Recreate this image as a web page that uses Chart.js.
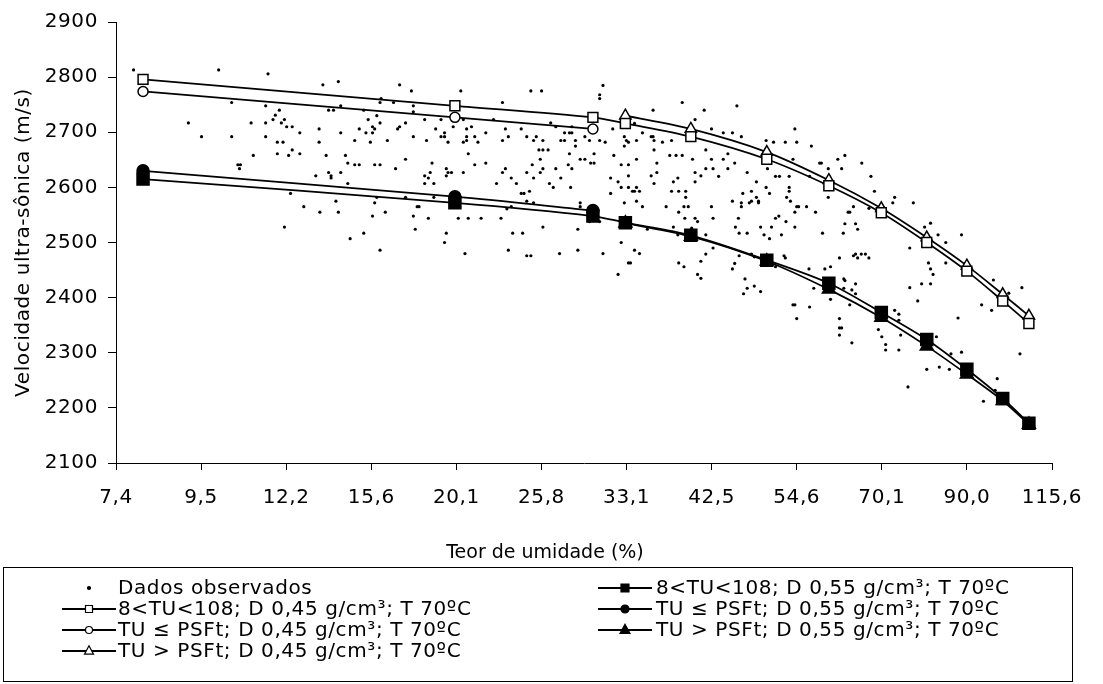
<!DOCTYPE html>
<html lang="pt">
<head>
<meta charset="utf-8">
<title>Velocidade ultra-sônica x teor de umidade</title>
<script src="https://cdn.jsdelivr.net/npm/chart.js@4.4.1/dist/chart.umd.min.js"></script>
<style>
  html, body { margin: 0; padding: 0; background: #fff; }
  canvas { display: block; }
</style>
</head>
<body>
<canvas id="chart" width="1103" height="684"></canvas>
<script>
// x axis (log scale): tick positions and their labels
const xTickValues = [7.389, 9.488, 12.182, 15.643, 20.086, 25.790, 33.115, 42.521, 54.598, 70.105, 90.017, 115.584];
const xTickLabels = ['7,4', '9,5', '12,2', '15,6', '20,1', '25,8', '33,1', '42,5', '54,6', '70,1', '90,0', '115,6'];

// fitted curves
const tuAll = [8, 20, 30, 33, 40, 50, 60, 70, 80, 90, 100, 108];
const tuBelow = [8, 20, 30];
const tuAbove = [33, 40, 50, 60, 70, 80, 90, 100, 108];

const vAll045 = [2796, 2748, 2727, 2716, 2692, 2651, 2603, 2554, 2500, 2448, 2394, 2353];
const vBelow045 = [2774, 2727, 2706];
const vAbove045 = [2730, 2706, 2664, 2613, 2562, 2509, 2458, 2406, 2367];

const vAll055 = [2615, 2572, 2548, 2536, 2513, 2468, 2426, 2373, 2324, 2270, 2217, 2172];
const vBelow055 = [2630, 2583, 2558];
const vAbove055 = [2535, 2511, 2466, 2415, 2364, 2312, 2261, 2213, 2170];

// observed data (teor de umidade %, velocidade m/s)
const obsTU = [
  7.78, 9.99, 11.55, 10.38, 11.47, 11.94, 11.8, 11.72, 12.12, 9.14,
  10.99, 11.47, 12.01, 12.2, 12.4, 12.68, 13.42, 9.5, 10.38, 11.47,
  13.42, 11.87, 12.07, 12.4, 11.87, 12.27, 12.68, 11.06, 10.57, 10.65,
  10.62, 13.29, 12.34, 12.83, 13.45, 12.12,

  13.57, 14.2, 17.0, 17.6, 20.35, 23.0, 16.1, 16.05, 16.7, 14.3,
  13.8, 14.0, 15.3, 17.7, 17.7, 15.9, 15.5, 16.05, 18.3, 19.2,
  20.5, 22.4, 17.3, 15.7, 15.1, 15.4, 15.7, 15.8, 16.9, 17.0,
  18.9, 19.4, 19.9, 20.7, 21.0, 21.9, 23.2, 23.4, 23.0, 14.3,
  14.9, 15.6, 16.4, 17.7, 18.4, 19.2, 19.4, 19.6, 20.5, 20.7,
  20.7, 21.2, 21.4, 20.8, 13.7, 14.5, 14.6, 14.9, 15.1, 15.8,
  16.05, 16.8, 17.3, 18.7, 19.5, 19.6, 19.8, 20.5, 21.2, 21.9,
  23.2, 23.0, 23.6, 23.96, 22.6, 13.8, 13.9, 13.9, 14.3, 14.6,
  18.3, 18.5, 18.6, 18.3, 18.8, 19.5, 14.1,
  14.2, 15.8, 15.9, 17.3, 18.8, 15.7, 16.3, 17.9, 18.0, 17.7,
  18.5, 20.2, 20.8, 21.6, 22.9, 23.6, 23.3, 15.3, 14.7, 17.8,
  19.5, 19.4, 16.05, 20.6, 23.4, 23.7,

  30.9, 30.6, 30.6, 25.0, 25.8, 35.8, 39.0, 40.5, 26.5, 26.9,
  24.3, 28.2, 27.6, 28.0, 28.2, 31.8, 33.9, 34.7, 24.7, 25.4,
  25.2, 25.9, 27.3, 27.6, 28.5, 29.3, 29.7, 30.6, 31.1, 32.9,
  33.1, 33.3, 34.1, 35.6, 35.8, 35.9, 36.8, 37.8, 28.5, 32.9,
  25.6, 25.9, 26.3, 28.0, 30.1, 35.9, 25.7, 28.9, 29.3, 31.9,
  34.1, 37.6, 38.3, 39.0, 40.2, 25.1, 26.9, 27.9, 28.2, 29.8,
  30.1, 32.6, 33.3, 36.2, 25.7, 24.7, 25.9, 25.2, 27.3, 31.6,
  33.3, 35.6, 36.2, 40.5, 41.2, 38.5, 40.5, 38.0, 26.4, 26.7,
  28.1, 32.3, 32.6, 33.3, 33.7, 33.9, 34.1, 34.4, 35.9, 31.6,
  37.8, 38.6, 39.4, 39.4, 24.3, 24.5, 24.9, 24.7, 25.2, 34.1,
  32.9, 34.7, 37.2, 39.2, 39.7, 38.6, 39.3, 40.5, 40.8, 28.9,
  28.9, 29.7, 30.6, 25.9, 24.4, 28.7, 35.2, 38.0, 38.5, 40.1,
  32.6, 24.7, 25.0, 27.2, 28.7, 30.9, 33.9, 34.4, 33.3, 33.5,
  32.3, 38.6, 39.2, 41.2, 40.8, 41.2,

  41.6, 45.8, 42.5, 44.0, 45.2, 46.4, 54.3, 49.9, 51.0, 52.8,
  54.6, 57.0, 41.8, 44.6, 58.4, 58.7, 61.6, 62.9, 66.1, 42.5,
  44.0, 45.5, 41.8, 42.7, 44.6, 50.1, 54.0, 59.9, 62.3, 43.4,
  47.2, 51.3, 51.9, 53.4, 56.7, 67.9, 48.5, 49.9, 53.4, 53.4,
  68.6, 46.6, 47.8, 50.4, 48.5, 46.4, 46.4, 47.5, 47.8, 48.8,
  48.8, 45.2, 53.0, 53.6, 59.9, 42.5, 54.6, 54.9, 56.2, 64.5,
  63.5, 63.8, 67.5, 54.3, 57.7, 42.7, 46.0, 51.3, 51.8, 52.9,
  62.9, 64.9, 45.6, 49.1, 50.7, 54.3, 65.3, 46.1, 47.2, 49.6,
  50.4, 52.2, 58.9, 62.6, 41.8, 42.7, 41.8, 45.5, 45.2, 46.1,
  47.8, 48.2, 52.6, 52.8, 51.3, 56.6, 59.3, 60.3, 61.9, 64.5,
  64.9, 66.0, 66.8, 65.3, 67.5, 46.9, 47.2, 48.2, 46.7, 49.1,
  57.4, 59.3, 60.3, 62.7, 62.9, 62.7, 64.2, 64.9, 64.9, 63.8,
  54.0, 54.3, 56.7, 54.6, 61.9, 61.9, 62.3, 61.9, 64.2, 69.4,

  72.8, 72.4, 76.9, 80.9, 79.5, 82.7, 88.6, 84.6, 76.1, 80.4,
  80.9, 81.5, 84.6, 76.1, 78.8, 80.9, 77.9, 97.3, 105.8, 101.8,
  94.0, 96.8, 72.8, 73.7, 73.7, 87.7, 74.1, 70.1, 70.9, 70.9,
  73.7, 82.3, 85.9, 88.6, 105.2, 80.0, 83.0, 85.5, 75.7, 98.4,
  97.8, 94.5
];
const obsV = [
  2813, 2813, 2806, 2754, 2748, 2740, 2731, 2723, 2723, 2717,
  2717, 2717, 2717, 2710, 2710, 2699, 2706, 2692, 2692, 2692,
  2682, 2682, 2682, 2668, 2661, 2658, 2661, 2658, 2641, 2641,
  2634, 2621, 2589, 2565, 2555, 2528,

  2786, 2792, 2786, 2775, 2775, 2754, 2761, 2754, 2754, 2748,
  2740, 2740, 2740, 2748, 2737, 2730, 2723, 2717, 2723, 2723,
  2723, 2723, 2717, 2710, 2706, 2699, 2699, 2706, 2706, 2710,
  2706, 2699, 2710, 2706, 2710, 2699, 2706, 2692, 2685, 2699,
  2685, 2682, 2685, 2692, 2685, 2692, 2692, 2682, 2682, 2692,
  2685, 2692, 2682, 2661, 2658, 2658, 2644, 2641, 2641, 2641,
  2641, 2634, 2651, 2644, 2634, 2627, 2627, 2627, 2641, 2644,
  2634, 2627, 2617, 2607, 2607, 2627, 2621, 2617, 2627, 2607,
  2621, 2617, 2627, 2607, 2607, 2621, 2575,
  2555, 2572, 2582, 2582, 2582, 2548, 2555, 2565, 2565, 2548,
  2544, 2544, 2544, 2544, 2544, 2565, 2561, 2517, 2507, 2524,
  2517, 2500, 2486, 2480, 2486, 2517,

  2785, 2768, 2761, 2775, 2775, 2740, 2754, 2723, 2717, 2710,
  2706, 2710, 2699, 2699, 2699, 2706, 2716, 2699, 2692, 2692,
  2685, 2685, 2685, 2685, 2685, 2692, 2685, 2685, 2682, 2692,
  2685, 2682, 2685, 2692, 2692, 2685, 2682, 2685, 2675, 2675,
  2668, 2668, 2668, 2661, 2661, 2668, 2651, 2651, 2651, 2658,
  2651, 2658, 2658, 2658, 2651, 2641, 2634, 2641, 2634, 2644,
  2644, 2641, 2641, 2644, 2627, 2627, 2634, 2617, 2617, 2617,
  2621, 2621, 2627, 2627, 2621, 2617, 2610, 2610, 2607, 2600,
  2600, 2610, 2600, 2600, 2593, 2593, 2600, 2593, 2607, 2589,
  2593, 2593, 2593, 2582, 2589, 2589, 2593, 2575, 2572, 2575,
  2572, 2565, 2565, 2565, 2565, 2555, 2544, 2544, 2538, 2572,
  2565, 2538, 2538, 2528, 2517, 2524, 2524, 2528, 2514, 2526,
  2500, 2476, 2476, 2480, 2486, 2480, 2486, 2480, 2463, 2463,
  2442, 2463, 2456, 2466, 2442, 2435,

  2740, 2748, 2706, 2699, 2699, 2692, 2706, 2685, 2682, 2682,
  2682, 2675, 2668, 2661, 2644, 2644, 2651, 2658, 2644, 2651,
  2651, 2644, 2634, 2634, 2634, 2634, 2651, 2634, 2634, 2620,
  2627, 2620, 2620, 2620, 2620, 2620, 2610, 2600, 2600, 2593,
  2593, 2589, 2593, 2589, 2582, 2572, 2565, 2572, 2575, 2575,
  2572, 2575, 2582, 2575, 2582, 2565, 2565, 2565, 2565, 2565,
  2555, 2555, 2562, 2555, 2555, 2544, 2544, 2544, 2548, 2538,
  2534, 2534, 2528, 2528, 2528, 2528, 2524, 2517, 2517, 2514,
  2507, 2514, 2517, 2517, 2514, 2490, 2479, 2462, 2452, 2476,
  2479, 2474, 2476, 2472, 2456, 2452, 2452, 2456, 2472, 2476,
  2479, 2479, 2479, 2472, 2472, 2434, 2417, 2421, 2407, 2411,
  2417, 2411, 2397, 2434, 2431, 2417, 2414, 2407, 2425, 2387,
  2387, 2387, 2383, 2362, 2362, 2345, 2345, 2332, 2318, 2342,

  2582, 2572, 2572, 2535, 2528, 2514, 2514, 2500, 2490, 2463,
  2452, 2442, 2463, 2418, 2425, 2425, 2394, 2432, 2418, 2408,
  2387, 2377, 2377, 2370, 2359, 2363, 2332, 2329, 2315, 2305,
  2305, 2329, 2298, 2301, 2298, 2270, 2274, 2270, 2238, 2253,
  2232, 2212
];

const FONT = "'DejaVu Sans', 'Liberation Sans', Arial, sans-serif";
const SPACING = '0.6px'; // the source text is set wide

Chart.defaults.font.family = FONT;
Chart.defaults.font.size = 20;
Chart.defaults.color = '#000';

function pts(xs, ys) {
  return xs.map((x, i) => ({ x: x, y: ys[i] }));
}

function curve(label, xs, ys, style, radius, filled) {
  return {
    label: label,
    data: pts(xs, ys),
    showLine: true,
    borderColor: '#000',
    borderWidth: 1.75,
    tension: 0.3,
    pointStyle: style,
    pointRadius: radius,
    pointBorderWidth: 1.5,
    pointBorderColor: '#000',
    pointBackgroundColor: filled ? '#000' : '#fff'
  };
}

const datasets = [
  curve('8<TU<108; D 0,45 g/cm³; T 70ºC', tuAll, vAll045, 'rect', 7, false),
  curve('TU ≤ PSFt; D 0,45 g/cm³; T 70ºC', tuBelow, vBelow045, 'circle', 5, false),
  curve('TU > PSFt; D 0,45 g/cm³; T 70ºC', tuAbove, vAbove045, 'triangle', 6.5, false),
  curve('8<TU<108; D 0,55 g/cm³; T 70ºC', tuAll, vAll055, 'rect', 8.5, true),
  curve('TU ≤ PSFt; D 0,55 g/cm³; T 70ºC', tuBelow, vBelow055, 'circle', 6, true),
  curve('TU > PSFt; D 0,55 g/cm³; T 70ºC', tuAbove, vAbove055, 'triangle', 7.5, true),
  {
    label: 'Dados observados',
    data: pts(obsTU, obsV),
    showLine: false,
    pointStyle: 'circle',
    pointRadius: 1.6,
    pointBorderWidth: 0,
    pointBackgroundColor: '#000'
  }
];

// legend: dataset index, column, row, marker radius
const legendOrder = [
  { ds: 6, col: 0, row: 0, r: 1.5 },
  { ds: 0, col: 0, row: 1, r: 3.5 },
  { ds: 1, col: 0, row: 2, r: 3.5 },
  { ds: 2, col: 0, row: 3, r: 4.5 },
  { ds: 3, col: 1, row: 0, r: 4 },
  { ds: 4, col: 1, row: 1, r: 4 },
  { ds: 5, col: 1, row: 2, r: 5 }
];

function drawMarker(ctx, style, r, x, y, fill) {
  ctx.beginPath();
  if (style === 'rect') {
    ctx.rect(x - r, y - r, 2 * r, 2 * r);
  } else if (style === 'triangle') {
    ctx.moveTo(x, y - r * 1.15);
    ctx.lineTo(x + r, y + r * 0.7);
    ctx.lineTo(x - r, y + r * 0.7);
    ctx.closePath();
  } else {
    ctx.arc(x, y, r, 0, Math.PI * 2);
  }
  ctx.fillStyle = fill;
  ctx.fill();
  ctx.lineWidth = 1.2;
  ctx.strokeStyle = '#000';
  ctx.stroke();
}

const spacingPlugin = {
  id: 'spacing',
  beforeUpdate(chart) { chart.ctx.letterSpacing = SPACING; },
  beforeDraw(chart) { chart.ctx.letterSpacing = SPACING; }
};

// x axis title sits a bit left of the plot centre in the source
const xTitle = {
  id: 'xTitle',
  afterDraw(chart) {
    const ctx = chart.ctx;
    ctx.save();
    ctx.letterSpacing = '0px';
    ctx.font = '19px ' + FONT;
    ctx.fillStyle = '#000';
    ctx.textAlign = 'center';
    ctx.textBaseline = 'middle';
    ctx.fillText('Teor de umidade (%)', 545, 553);
    ctx.restore();
  }
};

const boxLegend = {
  id: 'boxLegend',
  afterDraw(chart) {
    const ctx = chart.ctx;
    const colMarker = [89, 625];
    const colText = [118, 656];
    ctx.save();
    ctx.strokeStyle = '#000';
    ctx.lineWidth = 1;
    ctx.strokeRect(3.5, 567.5, 1069, 114);
    ctx.font = '20px ' + FONT;
    ctx.textAlign = 'left';
    ctx.textBaseline = 'middle';
    legendOrder.forEach(item => {
      const ds = chart.data.datasets[item.ds];
      const cx = colMarker[item.col];
      const cy = 588 + item.row * 21;
      if (ds.showLine) {
        ctx.beginPath();
        ctx.lineWidth = 2;
        ctx.strokeStyle = '#000';
        ctx.moveTo(cx - 27, cy);
        ctx.lineTo(cx + 27, cy);
        ctx.stroke();
      }
      drawMarker(ctx, ds.pointStyle, item.r, cx, cy, ds.pointBackgroundColor);
      ctx.fillStyle = '#000';
      ctx.fillText(ds.label, colText[item.col], cy + 1);
    });
    ctx.restore();
  }
};

new Chart(document.getElementById('chart'), {
  type: 'scatter',
  data: { datasets: datasets },
  options: {
    responsive: false,
    animation: false,
    devicePixelRatio: 1,
    layout: { padding: { left: 0, top: 22, right: 51, bottom: 117 } },
    plugins: {
      legend: { display: false },
      tooltip: { enabled: false }
    },
    scales: {
      x: {
        type: 'logarithmic',
        bounds: 'data',
        min: xTickValues[0],
        max: xTickValues[xTickValues.length - 1],
        afterBuildTicks: s => { s.ticks = xTickValues.map(v => ({ value: v })); },
        afterFit: s => { s.height = 104; },
        ticks: {
          autoSkip: false,
          maxRotation: 0,
          padding: 16,
          callback: (v, i) => xTickLabels[i]
        },
        grid: { drawOnChartArea: false, tickLength: 7, color: '#000' },
        border: { display: true, color: '#000', width: 1 },
        title: { display: false }
      },
      y: {
        min: 2100,
        max: 2900,
        afterFit: s => { s.width = 116; },
        ticks: { stepSize: 100, padding: 10, callback: v => String(v) },
        grid: { drawOnChartArea: false, tickLength: 8, color: '#000' },
        border: { display: true, color: '#000', width: 1 },
        title: {
          display: true,
          text: 'Velocidade ultra-sônica (m/s)',
          padding: { top: 12, bottom: 0 }
        }
      }
    }
  },
  plugins: [spacingPlugin, xTitle, boxLegend]
});
</script>
</body>
</html>
